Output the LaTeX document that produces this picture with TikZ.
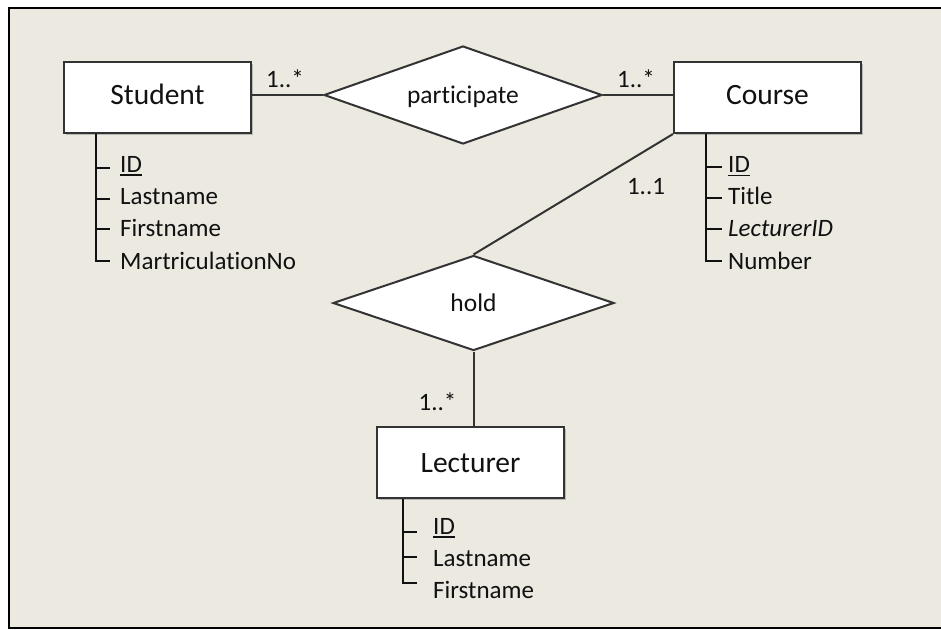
\documentclass[tikz,border=0pt]{standalone}
\usepackage{fontspec}
\setmainfont{Carlito}[Ligatures={NoCommon,NoRare,NoContextual}]
\usetikzlibrary{shapes.geometric,shadows}
\definecolor{panel}{HTML}{ECE9E0}
\definecolor{edge}{HTML}{333333}
\definecolor{ink}{HTML}{111111}
% underlined key attribute with a rule sized for the large font
\newcommand{\ulkey}[1]{\setbox0\hbox{#1}\rlap{\rule[-3.6pt]{\wd0}{1.6pt}}\box0}
\tikzset{
  entity/.style={draw=edge, line width=2pt, fill=white,
    minimum width=187pt, minimum height=71pt, inner sep=0pt,
    font=\fontsize{29.5}{32}\selectfont, text=ink,
    general shadow={shadow xshift=2pt, shadow yshift=-2pt, fill=black!28}},
  relation/.style={diamond, draw=edge, line width=2pt, fill=white,
    aspect=2.9, inner sep=0pt, text depth=0pt,
    font=\fontsize{25.5}{28}\selectfont, text=ink},
  attr/.style={anchor=base west, inner sep=0pt,
    font=\fontsize{25}{28}\selectfont, text=ink},
  mult/.style={anchor=base, inner sep=0pt,
    font=\fontsize{25}{28}\selectfont, text=ink},
  link/.style={draw=edge, line width=2pt},
  tree/.style={draw=ink, line width=2pt},
  frame/.style={draw=black, line width=2.2pt},
}
\begin{document}
\begin{tikzpicture}[x=1pt, y=-1pt]
  \useasboundingbox (0,0) rectangle (941,629);
  \fill[white] (0,0) rectangle (941,629);
  \fill[panel] (9,7.7) rectangle (941,627.7);
  \draw[frame] (942,7.7) -- (9,7.7) -- (9,627.7) -- (942,627.7);

  % entities
  \node[entity, text height=20pt, text depth=7pt] (stu) at (157.5,97.5) {Student};
  \node[entity, text height=20pt, text depth=7pt] (crs) at (767.5,97.5) {Course};
  \node[entity, text height=19.5pt, text depth=0pt] (lec) at (470.5,462.5) {Lecturer};

  % relationships
  \node[relation, minimum width=278pt, minimum height=98pt] (par) at (463,95) {participate};
  \node[relation, minimum width=281pt, minimum height=95pt] (hold) at (473.5,303) {hold};

  % connectors
  \draw[link] (par.west -| stu.east) -- (par.west);
  \draw[link] (par.east) -- (par.east -| crs.west);
  \draw[link] (crs.south west) -- (hold.north);
  \draw[link] (hold.south) -- (hold.south |- lec.north);

  % multiplicities
  \node[mult] (m1) at (285,87.3) {1..*};
  \node[mult] (m2) at (636,87) {1..*};
  \node[mult] (m3) at (646,194) {1..1};
  \node[mult] (m4) at (437.5,410.7) {1..*};

  % Student attributes
  \coordinate (stuT) at ([xshift=33pt]stu.south west);
  \draw[tree] (stuT) |- (110,260.7);
  \draw[tree] (96,167.7) -- (110,167.7);
  \draw[tree] (96,199) -- (110,199);
  \draw[tree] (96,229) -- (110,229);
  \node[attr] (sa1) at (120,172) {\ulkey{ID}};
  \node[attr] (sa2) at (120,204) {Lastname};
  \node[attr] (sa3) at (120,236) {Firstname};
  \node[attr] (sa4) at (120,269) {MartriculationNo};

  % Course attributes
  \coordinate (crsT) at ([xshift=32.7pt]crs.south west);
  \draw[tree] (crsT) |- (721.7,261);
  \draw[tree] (705.7,166.7) -- (721.7,166.7);
  \draw[tree] (705.7,198.3) -- (721.7,198.3);
  \draw[tree] (705.7,229) -- (721.7,229);
  \node[attr] (ca1) at (728,172.7) {\ulkey{ID}};
  \node[attr] (ca2) at (728,204) {Title};
  \node[attr] (ca3) at (728,236) {\itshape LecturerID};
  \node[attr] (ca4) at (728,269) {Number};

  % Lecturer attributes
  \coordinate (lecT) at ([xshift=26.7pt]lec.south west);
  \draw[tree] (lecT) |- (417,583);
  \draw[tree] (402.7,532) -- (417,532);
  \draw[tree] (402.7,557) -- (417,557);
  \node[attr] (la1) at (433,534) {\ulkey{ID}};
  \node[attr] (la2) at (433,566) {Lastname};
  \node[attr] (la3) at (433,598) {Firstname};
\end{tikzpicture}
\end{document}
